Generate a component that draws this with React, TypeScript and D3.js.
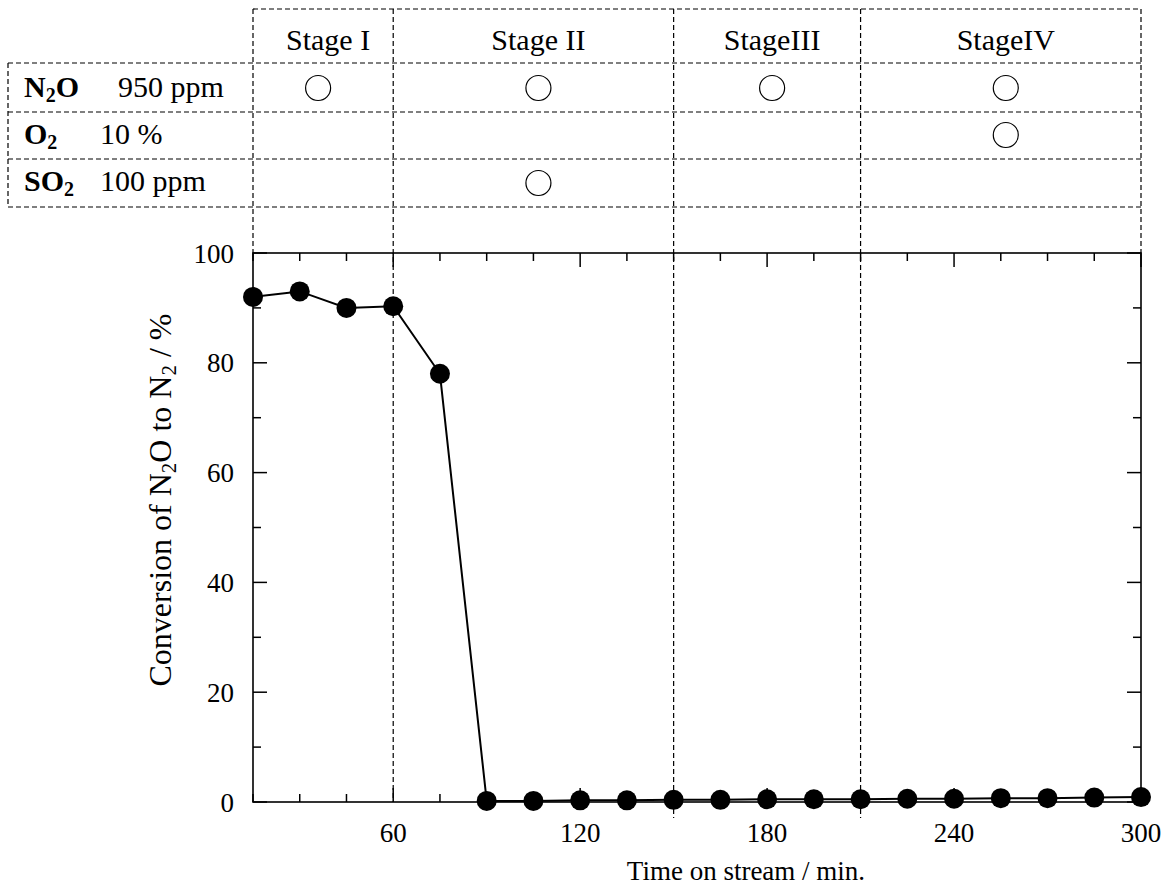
import React from "react";
import * as d3 from "d3";

// ---- data ----
const timeMin = [15, 30, 45, 60, 75, 90, 105, 120, 135, 150, 165, 180, 195, 210, 225, 240, 255, 270, 285, 300];
const conversion = [92.0, 93.0, 90.0, 90.3, 78.0, 0.2, 0.2, 0.3, 0.3, 0.4, 0.4, 0.5, 0.5, 0.5, 0.6, 0.6, 0.7, 0.7, 0.8, 0.9];
const xTicks = [60, 120, 180, 240, 300];
const yTicks = [0, 20, 40, 60, 80, 100];
const stageNames = ["Stage I", "Stage II", "StageIII", "StageIV"];
const stageBounds = [15, 60, 150, 210, 300];
const n2oOn = [1, 1, 1, 1];
const o2On = [0, 0, 0, 1];
const so2On = [0, 1, 0, 0];

const FONT = "'Liberation Serif', 'Times New Roman', serif";

export default function App() {
  const L = 253, R = 1141, T = 253, B = 802;
  const x = d3.scaleLinear().domain([15, 300]).range([L, R]);
  const y = d3.scaleLinear().domain([0, 100]).range([B, T]);
  const line = d3.line<number>().x((_, i) => x(timeMin[i])).y((d) => y(d));

  const tableTop = 9, headBot = 63, rowLines = [112, 159, 207];
  const rowCenters = [88, 135, 183];
  const rowBase = [97, 144, 191];
  const dash = "5,3";
  const dashStroke = { stroke: "#000", strokeWidth: 1.2, strokeDasharray: dash, fill: "none" } as const;

  const xMinor = d3.range(15, 301, 15);
  const yMinor = d3.range(0, 101, 10);

  const rowsOn = [n2oOn, o2On, so2On];
  const colC = (i: number) => (x(stageBounds[i]) + x(stageBounds[i + 1])) / 2 + 5;

  return (
    <svg width={1165} height={892} style={{ position: "absolute", left: 0, top: 0, background: "#fff" }} fontFamily={FONT}>
      <rect x={0} y={0} width={1165} height={892} fill="#fff" />
      {/* table horizontal lines */}
      <line x1={L} x2={R} y1={tableTop} y2={tableTop} {...dashStroke} />
      <line x1={8} x2={R} y1={headBot} y2={headBot} {...dashStroke} />
      {rowLines.map((ry, i) => (
        <line key={i} x1={8} x2={R} y1={ry} y2={ry} {...dashStroke} />
      ))}
      <line x1={8} x2={8} y1={headBot} y2={rowLines[2]} {...dashStroke} />
      {/* table verticals */}
      {stageBounds.map((b, i) => {
        const extend = i === 2 || i === 3;
        const y2 = i === 0 || i === 4 ? T : extend ? 818 : B;
        return <line key={i} x1={x(b)} x2={x(b)} y1={tableTop} y2={y2} {...dashStroke} />;
      })}
      {/* stage names */}
      {stageNames.map((s, i) => (
        <text key={s} x={colC(i)} y={50} fontSize={30} textAnchor="middle">{s}</text>
      ))}
      {/* row labels */}
      <text x={24} y={rowBase[0]} fontSize={30}>
        <tspan fontWeight="bold">N</tspan>
        <tspan fontWeight="bold" fontSize={20} dy={5}>2</tspan>
        <tspan fontWeight="bold" dy={-5}>O</tspan>
      </text>
      <text x={118} y={rowBase[0]} fontSize={30}>950 ppm</text>
      <text x={24} y={rowBase[1]} fontSize={30}>
        <tspan fontWeight="bold">O</tspan>
        <tspan fontWeight="bold" fontSize={20} dy={5}>2</tspan>
      </text>
      <text x={100} y={rowBase[1]} fontSize={30}>10 %</text>
      <text x={24} y={rowBase[2]} fontSize={30}>
        <tspan fontWeight="bold">SO</tspan>
        <tspan fontWeight="bold" fontSize={20} dy={5}>2</tspan>
      </text>
      <text x={100} y={rowBase[2]} fontSize={30}>100 ppm</text>
      {/* open circles */}
      {rowsOn.map((row, r) =>
        row.map((on, c) =>
          on ? (
            <ellipse key={`${r}-${c}`} cx={c === 0 ? colC(c) - 10 : colC(c)} cy={rowCenters[r]} rx={12.5} ry={12.5} fill="none" stroke="#000" strokeWidth={1.2} />
          ) : null
        )
      )}
      {/* plot frame */}
      <rect x={L} y={T} width={R - L} height={B - T} fill="none" stroke="#000" strokeWidth={1.6} />
      {/* x ticks */}
      {xMinor.map((t) => {
        const major = t % 60 === 0;
        const len = major ? 14 : 8;
        return (
          <g key={t}>
            <line x1={x(t)} x2={x(t)} y1={B} y2={B - len} stroke="#000" strokeWidth={1.5} />
            <line x1={x(t)} x2={x(t)} y1={T} y2={T + len} stroke="#000" strokeWidth={1.5} />
          </g>
        );
      })}
      {xTicks.map((t) => (
        <text key={t} x={x(t)} y={B + 40} fontSize={27} textAnchor="middle">{t}</text>
      ))}
      {/* y ticks */}
      {yMinor.map((t) => {
        const major = t % 20 === 0;
        const len = major ? 14 : 8;
        return (
          <g key={t}>
            <line x1={L} x2={L + len} y1={y(t)} y2={y(t)} stroke="#000" strokeWidth={1.5} />
            <line x1={R} x2={R - len} y1={y(t)} y2={y(t)} stroke="#000" strokeWidth={1.5} />
          </g>
        );
      })}
      {yTicks.map((t) => (
        <text key={t} x={234} y={y(t) + 9.5} fontSize={27} textAnchor="end">{t}</text>
      ))}
      {/* data */}
      <path d={line(conversion) || ""} fill="none" stroke="#000" strokeWidth={2} />
      {conversion.map((v, i) => (
        <circle key={i} cx={x(timeMin[i])} cy={y(v)} r={10} fill="#000" />
      ))}
      {/* axis titles */}
      <text x={746} y={880} fontSize={27} textAnchor="middle">Time on stream / min.</text>
      <text transform={`translate(171,500) rotate(-90)`} fontSize={32} textAnchor="middle">
        Conversion of N<tspan fontSize={21} dy={5}>2</tspan><tspan dy={-5}>O to N</tspan><tspan fontSize={21} dy={5}>2</tspan><tspan dy={-5}> / %</tspan>
      </text>
    </svg>
  );
}
